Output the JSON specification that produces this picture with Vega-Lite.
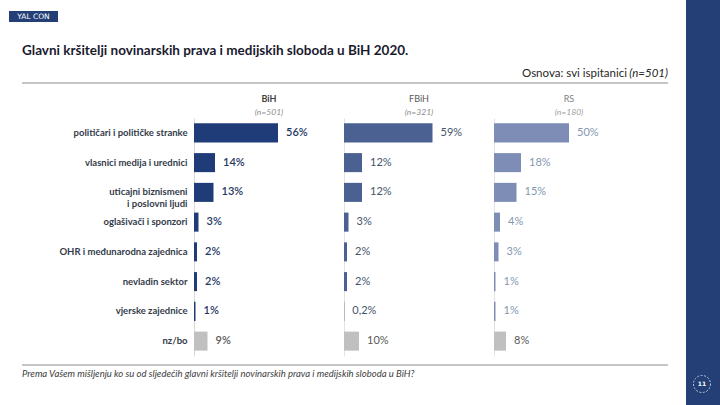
{
  "$schema": "https://vega.github.io/schema/vega-lite/v6.json",
  "autosize": {"type": "pad"},
  "padding": 0,
  "background": "white",
  "bounds": "flush",
  "spacing": 0,
  "config": {"view": {"stroke": null}, "font": "Lato", "text": {"font": "Lato"}},
  "data": {"values": [
    {"region": "BiH", "category": "političari i političke stranke", "value": 56, "label": "56%"},
    {"region": "BiH", "category": "vlasnici medija i urednici", "value": 14, "label": "14%"},
    {"region": "BiH", "category": "uticajni biznismeni i poslovni ljudi", "value": 13, "label": "13%"},
    {"region": "BiH", "category": "oglašivači i sponzori", "value": 3, "label": "3%"},
    {"region": "BiH", "category": "OHR i međunarodna zajednica", "value": 2, "label": "2%"},
    {"region": "BiH", "category": "nevladin sektor", "value": 2, "label": "2%"},
    {"region": "BiH", "category": "vjerske zajednice", "value": 1, "label": "1%"},
    {"region": "BiH", "category": "nz/bo", "value": 9, "label": "9%"},
    {"region": "FBiH", "category": "političari i političke stranke", "value": 59, "label": "59%"},
    {"region": "FBiH", "category": "vlasnici medija i urednici", "value": 12, "label": "12%"},
    {"region": "FBiH", "category": "uticajni biznismeni i poslovni ljudi", "value": 12, "label": "12%"},
    {"region": "FBiH", "category": "oglašivači i sponzori", "value": 3, "label": "3%"},
    {"region": "FBiH", "category": "OHR i međunarodna zajednica", "value": 2, "label": "2%"},
    {"region": "FBiH", "category": "nevladin sektor", "value": 2, "label": "2%"},
    {"region": "FBiH", "category": "vjerske zajednice", "value": 0.2, "label": "0,2%"},
    {"region": "FBiH", "category": "nz/bo", "value": 10, "label": "10%"},
    {"region": "RS", "category": "političari i političke stranke", "value": 50, "label": "50%"},
    {"region": "RS", "category": "vlasnici medija i urednici", "value": 18, "label": "18%"},
    {"region": "RS", "category": "uticajni biznismeni i poslovni ljudi", "value": 15, "label": "15%"},
    {"region": "RS", "category": "oglašivači i sponzori", "value": 4, "label": "4%"},
    {"region": "RS", "category": "OHR i međunarodna zajednica", "value": 3, "label": "3%"},
    {"region": "RS", "category": "nevladin sektor", "value": 1, "label": "1%"},
    {"region": "RS", "category": "vjerske zajednice", "value": 1, "label": "1%"},
    {"region": "RS", "category": "nz/bo", "value": 8, "label": "8%"}
  ]},
  "hconcat": [
    {
      "width": 150, "height": 238,
      "title": {"text": "BiH", "subtitle": "(n=501)", "anchor": "middle", "fontSize": 9, "fontWeight": "bold", "color": "#404040", "subtitleFontSize": 8.5, "subtitleFontStyle": "italic", "subtitleColor": "#8c8c8c", "subtitlePadding": 4, "offset": 2, "font": "Lato", "subtitleFont": "Lato"},
      "transform": [{"filter": "datum.region === 'BiH'"}],
      "encoding": {
        "y": {"field": "category", "type": "nominal",
          "sort": ["političari i političke stranke", "vlasnici medija i urednici", "uticajni biznismeni i poslovni ljudi", "oglašivači i sponzori", "OHR i međunarodna zajednica", "nevladin sektor", "vjerske zajednice", "nz/bo"],
          "scale": {"paddingInner": 0.36, "paddingOuter": 0.18},
          "axis": {"title": null, "ticks": false, "domain": true, "domainColor": "#d9d9d9", "labelPadding": 7, "labelFontSize": 9.5, "labelFontWeight": "bold", "labelColor": "#333b4a", "labelFont": "Lato", "labelLineHeight": 12, "labelLimit": 200,
            "labelExpr": "datum.value === 'uticajni biznismeni i poslovni ljudi' ? ['uticajni biznismeni', 'i poslovni ljudi  '] : datum.label"}},
        "x": {"field": "value", "type": "quantitative", "scale": {"domain": [0, 100]}, "axis": null}
      },
      "layer": [
        {"mark": {"type": "bar"}, "encoding": {"color": {"condition": {"test": "datum.category === 'nz/bo'", "value": "#c0c0c0"}, "value": "#1f3c78"}}},
        {"mark": {"type": "text", "align": "left", "baseline": "middle", "dx": 8, "fontSize": 11, "fontWeight": 600}, "encoding": {"text": {"field": "label"}, "color": {"condition": {"test": "datum.category === 'nz/bo'", "value": "#595959"}, "value": "#1f3864"}}}
      ]
    },
    {
      "width": 150, "height": 238,
      "title": {"text": "FBiH", "subtitle": "(n=321)", "anchor": "middle", "fontSize": 9, "fontWeight": "normal", "color": "#595959", "subtitleFontSize": 8.5, "subtitleFontStyle": "italic", "subtitleColor": "#8c8c8c", "subtitlePadding": 4, "offset": 2, "font": "Lato", "subtitleFont": "Lato"},
      "transform": [{"filter": "datum.region === 'FBiH'"}],
      "encoding": {
        "y": {"field": "category", "type": "nominal",
          "sort": ["političari i političke stranke", "vlasnici medija i urednici", "uticajni biznismeni i poslovni ljudi", "oglašivači i sponzori", "OHR i međunarodna zajednica", "nevladin sektor", "vjerske zajednice", "nz/bo"],
          "scale": {"paddingInner": 0.36, "paddingOuter": 0.18},
          "axis": {"title": null, "ticks": false, "labels": false, "domain": true, "domainColor": "#e3e3e3"}},
        "x": {"field": "value", "type": "quantitative", "scale": {"domain": [0, 100]}, "axis": null}
      },
      "layer": [
        {"mark": {"type": "bar"}, "encoding": {"color": {"condition": {"test": "datum.category === 'nz/bo'", "value": "#c0c0c0"}, "value": "#4a6192"}}},
        {"mark": {"type": "text", "align": "left", "baseline": "middle", "dx": 8, "fontSize": 11}, "encoding": {"text": {"field": "label"}, "color": {"condition": {"test": "datum.category === 'nz/bo'", "value": "#595959"}, "value": "#44546a"}}}
      ]
    },
    {
      "width": 150, "height": 238,
      "title": {"text": "RS", "subtitle": "(n=180)", "anchor": "middle", "fontSize": 9, "fontWeight": "normal", "color": "#7f7f7f", "subtitleFontSize": 8.5, "subtitleFontStyle": "italic", "subtitleColor": "#a0a0a0", "subtitlePadding": 4, "offset": 2, "font": "Lato", "subtitleFont": "Lato"},
      "transform": [{"filter": "datum.region === 'RS'"}],
      "encoding": {
        "y": {"field": "category", "type": "nominal",
          "sort": ["političari i političke stranke", "vlasnici medija i urednici", "uticajni biznismeni i poslovni ljudi", "oglašivači i sponzori", "OHR i međunarodna zajednica", "nevladin sektor", "vjerske zajednice", "nz/bo"],
          "scale": {"paddingInner": 0.36, "paddingOuter": 0.18},
          "axis": {"title": null, "ticks": false, "labels": false, "domain": true, "domainColor": "#e3e3e3"}},
        "x": {"field": "value", "type": "quantitative", "scale": {"domain": [0, 100]}, "axis": null}
      },
      "layer": [
        {"mark": {"type": "bar"}, "encoding": {"color": {"condition": {"test": "datum.category === 'nz/bo'", "value": "#c0c0c0"}, "value": "#7d8db5"}}},
        {"mark": {"type": "text", "align": "left", "baseline": "middle", "dx": 8, "fontSize": 11}, "encoding": {"text": {"field": "label"}, "color": {"condition": {"test": "datum.category === 'nz/bo'", "value": "#595959"}, "value": "#8497b0"}}}
      ]
    },
    {
      "width": 1, "height": 1,
      "layer": [
        {"data": {"values": [{}]}, "mark": {"type": "rect", "fill": "white", "fillOpacity": 0}, "encoding": {"x": {"value": -644}, "x2": {"value": 76}, "y": {"value": -118}, "y2": {"value": 287}}},
        {"data": {"values": [{}]}, "mark": {"type": "rect", "fill": "#243f75"}, "encoding": {"x": {"value": 42}, "x2": {"value": 76}, "y": {"value": -118}, "y2": {"value": 287}}},
        {"data": {"values": [{}]}, "mark": {"type": "rect", "fill": "#243f75"}, "encoding": {"x": {"value": -635}, "x2": {"value": -586}, "y": {"value": -107}, "y2": {"value": -96}}},
        {"data": {"values": [{}]}, "mark": {"type": "text", "text": "YAL CON", "fill": "white", "fontSize": 7.5, "align": "center", "baseline": "middle", "font": "DejaVu Sans"}, "encoding": {"x": {"value": -610.5}, "y": {"value": -101.5}}},
        {"data": {"values": [{}]}, "mark": {"type": "text", "text": "Glavni kršitelji novinarskih prava i medijskih sloboda u BiH 2020.", "fill": "#1a1a2e", "fontSize": 13.5, "fontWeight": "bold", "align": "left", "baseline": "alphabetic", "font": "Lato", "letterSpacing": 0.3}, "encoding": {"x": {"value": -622}, "y": {"value": -63}}},
        {"data": {"values": [{}]}, "mark": {"type": "text", "text": "Osnova: svi ispitanici", "fill": "#262626", "fontSize": 11.5, "align": "right", "baseline": "alphabetic", "font": "Lato"}, "encoding": {"x": {"value": -17}, "y": {"value": -41}}},
        {"data": {"values": [{}]}, "mark": {"type": "text", "text": "(n=501)", "fill": "#262626", "fontSize": 11.5, "fontStyle": "italic", "align": "right", "baseline": "alphabetic", "font": "Lato"}, "encoding": {"x": {"value": 24}, "y": {"value": -41}}},
        {"data": {"values": [{}]}, "mark": {"type": "rule", "stroke": "#8c8c8c", "strokeWidth": 1}, "encoding": {"x": {"value": -622}, "x2": {"value": 24}, "y": {"value": -35}}},
        {"data": {"values": [{}]}, "mark": {"type": "rule", "stroke": "#8c8c8c", "strokeWidth": 1}, "encoding": {"x": {"value": -622}, "x2": {"value": 24}, "y": {"value": 247}}},
        {"data": {"values": [{}]}, "mark": {"type": "text", "text": "Prema Vašem mišljenju ko su od sljedećih glavni kršitelji novinarskih prava i medijskih sloboda u BiH?", "fill": "#404040", "fontSize": 9.5, "fontStyle": "italic", "align": "left", "baseline": "alphabetic", "font": "Lato"}, "encoding": {"x": {"value": -622}, "y": {"value": 259}}},
        {"data": {"values": [{}]}, "mark": {"type": "point", "shape": "circle", "filled": false, "stroke": "white", "strokeWidth": 1, "strokeDash": [2, 1.5], "size": 290}, "encoding": {"x": {"value": 58}, "y": {"value": 266}}},
        {"data": {"values": [{}]}, "mark": {"type": "text", "text": "11", "fill": "white", "fontSize": 6, "fontWeight": "bold", "align": "center", "baseline": "middle", "font": "DejaVu Sans"}, "encoding": {"x": {"value": 58}, "y": {"value": 266}}}
      ]
    }
  ]
}
